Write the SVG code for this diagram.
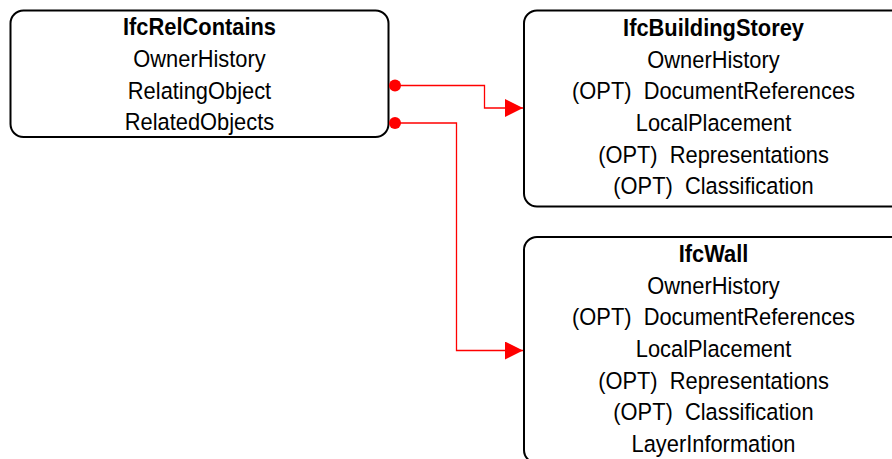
<svg xmlns="http://www.w3.org/2000/svg" width="892" height="459" viewBox="0 0 892 459">
<defs>
<style>
.box{fill:#fff;stroke:#000;stroke-width:2}
.t{font-family:"Liberation Sans",Arial,sans-serif;font-size:23.5px;fill:#000;text-anchor:middle;white-space:pre}
.b{font-weight:bold}
.c{fill:none;stroke:#f00;stroke-width:1.3}
</style>
<marker id="arr" viewBox="0 0 18 18" refX="18" refY="9" markerWidth="18" markerHeight="18" markerUnits="userSpaceOnUse" orient="auto">
<path d="M0,0 L18,9 L0,18 Z" fill="#f00"/>
</marker>
</defs>
<g id="IfcRelContains">
<rect class="box" x="10.5" y="10.5" width="378" height="126.5" rx="13"/>
<text class="t b" transform="translate(199.5,35) scale(0.93,1)">IfcRelContains</text>
<text class="t" transform="translate(199.5,67) scale(0.93,1)">OwnerHistory</text>
<text class="t" transform="translate(199.5,98.5) scale(0.93,1)">RelatingObject</text>
<text class="t" transform="translate(199.5,130) scale(0.93,1)">RelatedObjects</text>
</g>
<g id="IfcBuildingStorey">
<rect class="box" x="524" y="10.5" width="380" height="196" rx="13"/>
<text class="t b" transform="translate(713.5,36) scale(0.93,1)">IfcBuildingStorey</text>
<text class="t" transform="translate(713.5,67.5) scale(0.93,1)">OwnerHistory</text>
<text class="t" xml:space="preserve" transform="translate(713.5,99) scale(0.93,1)">(OPT)  DocumentReferences</text>
<text class="t" transform="translate(713.5,131) scale(0.93,1)">LocalPlacement</text>
<text class="t" xml:space="preserve" transform="translate(713.5,162.5) scale(0.93,1)">(OPT)  Representations</text>
<text class="t" xml:space="preserve" transform="translate(713.5,194) scale(0.93,1)">(OPT)  Classification</text>
</g>
<g id="IfcWall">
<rect class="box" x="524" y="237" width="380" height="226" rx="13"/>
<text class="t b" transform="translate(713.5,262) scale(0.93,1)">IfcWall</text>
<text class="t" transform="translate(713.5,293.5) scale(0.93,1)">OwnerHistory</text>
<text class="t" xml:space="preserve" transform="translate(713.5,325) scale(0.93,1)">(OPT)  DocumentReferences</text>
<text class="t" transform="translate(713.5,357) scale(0.93,1)">LocalPlacement</text>
<text class="t" xml:space="preserve" transform="translate(713.5,388.5) scale(0.93,1)">(OPT)  Representations</text>
<text class="t" xml:space="preserve" transform="translate(713.5,420) scale(0.93,1)">(OPT)  Classification</text>
<text class="t" transform="translate(713.5,452) scale(0.93,1)">LayerInformation</text>
</g>
<g id="connectors">
<circle cx="395" cy="85.5" r="6" fill="#f00"/>
<path class="c" d="M395,85.5 H484.5 V108 H523" marker-end="url(#arr)"/>
<circle cx="395" cy="123" r="6" fill="#f00"/>
<path class="c" d="M395,123 H456.5 V350.5 H523" marker-end="url(#arr)"/>
</g>
</svg>
